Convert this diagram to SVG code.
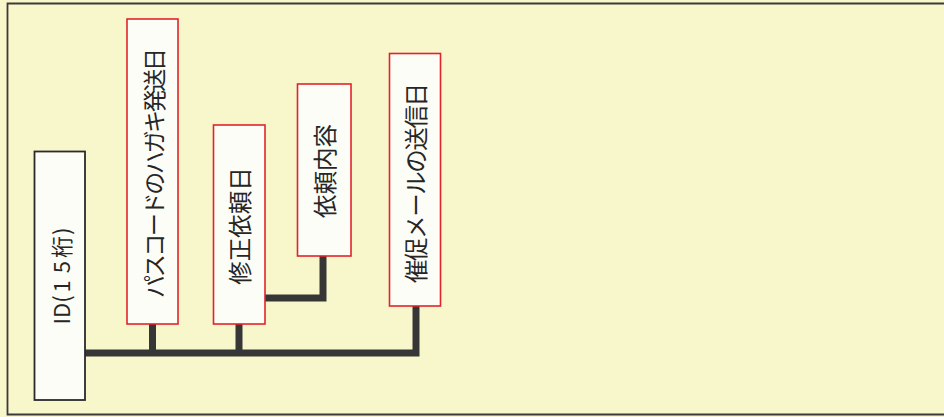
<svg xmlns="http://www.w3.org/2000/svg" width="944" height="417" viewBox="0 0 944 417">
<style>
.box{fill:#fdfdf8;stroke:#e0242a;stroke-width:1.6}
.idbox{fill:#fdfdf8;stroke:#2a2a2a;stroke-width:1.8}
.lbl{font-family:"Noto Sans CJK JP","Noto Sans",sans-serif;font-size:23.5px;fill:#262626;text-anchor:middle;dominant-baseline:central}
.conn{fill:none;stroke:#363636;stroke-width:7;stroke-linejoin:miter}
</style>
<rect x="0" y="0" width="944" height="417" fill="#f8f6cb"/>
<path d="M944 3.5H7.5V414.5H944" fill="none" stroke="#3a3a3a" stroke-width="1.8"/>
<g id="connectors">
<path class="conn" d="M85 353H416V306"/>
<path class="conn" d="M152.5 324V353"/>
<path class="conn" d="M239 324V353"/>
<path class="conn" d="M265 298H323V256"/>
</g>
<g id="node-id">
<rect class="idbox" x="34.5" y="151.5" width="50.5" height="248.5"/>
<text class="lbl" style="font-size:22px" transform="translate(60,276) rotate(-90)">ID(<tspan dx="3">1</tspan><tspan dx="7">5</tspan><tspan dx="3">桁</tspan><tspan dx="1">)</tspan></text>
</g>
<g id="node-passcode">
<rect class="box" x="127" y="19" width="51" height="305"/>
<text class="lbl" style="font-size:23px" transform="translate(152.5,173) rotate(-90)" textLength="250" lengthAdjust="spacing">パスコードのハガキ発送日</text>
</g>
<g id="node-shusei">
<rect class="box" x="213.5" y="125" width="51.5" height="199"/>
<text class="lbl" transform="translate(239,226) rotate(-90)">修正依頼日</text>
</g>
<g id="node-naiyo">
<rect class="box" x="297.5" y="84" width="53.5" height="172"/>
<text class="lbl" transform="translate(324,171) rotate(-90)">依頼内容</text>
</g>
<g id="node-saisoku">
<rect class="box" x="389.5" y="53.5" width="51" height="252.5"/>
<text class="lbl" transform="translate(415,183) rotate(-90)" textLength="200" lengthAdjust="spacing">催促メールの送信日</text>
</g>
</svg>
